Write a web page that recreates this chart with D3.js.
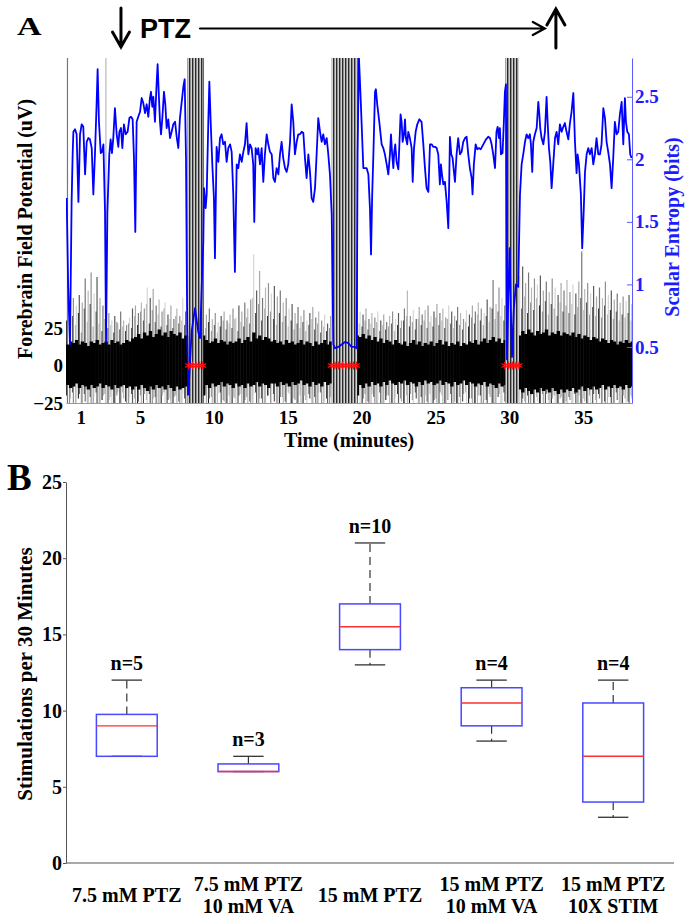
<!DOCTYPE html>
<html><head><meta charset="utf-8">
<script src="https://cdn.jsdelivr.net/npm/d3@7"></script>
<style>body{margin:0;background:#fff;} svg{display:block;}</style>
</head><body>
<svg id="chart" width="691" height="924"></svg>
<script>
// ---------------- Panel A data ----------------
const timeDomain = [0, 38.3];          // minutes
const eegDomain = [-25, 205];          // uV
const entropyDomain = [0.052, 2.81];   // bits
const timeTicks = [1, 5, 10, 15, 20, 25, 30, 35];
const eegTicks = [-25, 0, 25];
const entropyTicks = [0.5, 1, 1.5, 2, 2.5];
const entropyTickLabels = ["0.5", "1", "1.5", "2", "2.5"];

// EEG envelope, one value per 0.2-minute bin (uV)
const eegStart = 0, eegStep = 0.2;
const eegHigh = [
220,52,45,40,47,42,58,50,62,48,
59,45,40,220,35,30,33,28,36,30,
27,32,38,40,35,42,38,52,45,51,
40,44,36,42,34,40,31,38,33,45,
36,300,300,300,300,300,300,34,38,31,
35,29,33,36,30,34,38,32,40,36,
42,38,44,74,50,63,45,52,55,48,
53,46,50,42,45,38,41,35,39,33,
37,30,35,39,32,36,30,34,28,33,
300,300,300,300,300,300,300,300,300,36,
34,38,31,35,32,36,30,34,29,33,
36,31,35,30,38,50,33,37,31,39,
34,37,40,33,36,41,35,38,32,40,
36,33,39,35,31,37,34,40,36,42,
38,35,44,39,57,41,52,45,40,300,
300,300,300,60,66,55,62,52,58,54,
60,50,56,49,58,52,47,55,50,57,
49,54,48,56,76,51,55,48,53,46,
52,45,56,47,50,44,48,42,46,43,
47,41];
const eegLow = [
-30,-22,-30,-30,-19,-30,-24,-30,-30,-21,
-30,-30,-20,-30,-23,-30,-30,-18,-30,-22,
-30,-21,-30,-30,-24,-30,-19,-30,-30,-22,
-30,-30,-20,-30,-23,-30,-21,-30,-30,-19,
-30,-300,-300,-300,-300,-300,-300,-30,-22,-30,
-30,-19,-30,-24,-30,-30,-21,-30,-20,-30,
-23,-30,-30,-19,-30,-22,-30,-30,-20,-30,
-24,-30,-21,-30,-30,-19,-30,-23,-30,-30,
-20,-30,-22,-30,-30,-18,-30,-24,-30,-21,
-300,-300,-300,-300,-300,-300,-300,-300,-300,-30,
-22,-30,-30,-19,-30,-23,-30,-30,-20,-30,
-30,-21,-30,-24,-30,-30,-19,-30,-22,-30,
-30,-20,-30,-30,-23,-30,-18,-30,-30,-21,
-30,-24,-30,-30,-19,-30,-22,-30,-30,-20,
-30,-23,-30,-21,-30,-30,-19,-30,-24,-300,
-300,-300,-300,-30,-22,-30,-30,-20,-30,-24,
-30,-30,-19,-30,-22,-30,-30,-21,-30,-30,
-23,-30,-30,-20,-30,-24,-30,-30,-19,-30,
-22,-30,-30,-21,-30,-30,-23,-30,-20,-30,
-30,-22];
// secondary excursions within each bin (uV)
const eegHigh2 = [
30,24,33,27,35,22,38,29,41,26,
36,28,23,31,25,27,22,29,24,26,
23,28,25,33,27,36,30,41,28,37,
29,34,26,38,27,31,25,33,28,30,
27,300,300,300,300,300,300,25,29,23,
27,22,26,30,24,28,25,31,23,29,
26,32,28,45,35,41,30,38,33,36,
31,27,35,29,33,26,30,24,28,25,
29,23,27,31,24,28,22,26,23,25,
300,300,300,300,300,300,300,300,300,28,
26,30,24,28,25,29,23,27,24,26,
28,23,27,25,30,33,26,29,24,31,
27,30,25,29,26,32,27,30,25,31,
28,25,30,27,24,29,26,32,28,34,
30,27,33,29,38,31,36,33,30,300,
300,300,300,44,38,46,35,42,37,45,
40,36,43,34,41,38,33,42,36,40,
35,41,34,39,45,37,42,34,39,33,
38,32,40,34,37,31,36,30,34,32,
35,30];
const eegLow2 = [
-20,-26,-18,-30,-22,-27,-19,-30,-21,-25,
-18,-28,-23,-19,-30,-21,-26,-20,-27,-18,
-24,-30,-19,-22,-28,-20,-30,-23,-19,-26,
-21,-27,-30,-18,-25,-22,-29,-20,-24,-30,
-22,-300,-300,-300,-300,-300,-300,-19,-28,-21,
-26,-30,-18,-23,-27,-20,-30,-22,-25,-19,
-28,-21,-24,-30,-18,-26,-22,-29,-20,-25,
-19,-27,-30,-21,-24,-18,-28,-22,-26,-20,
-30,-23,-19,-27,-21,-25,-18,-29,-22,-26,
-300,-300,-300,-300,-300,-300,-300,-300,-300,-20,
-27,-19,-24,-30,-21,-26,-18,-28,-23,-20,
-25,-30,-19,-22,-27,-20,-29,-23,-18,-26,
-21,-28,-24,-19,-30,-22,-26,-20,-27,-23,
-19,-25,-29,-21,-24,-18,-28,-22,-26,-30,
-20,-27,-23,-19,-25,-30,-21,-26,-18,-300,
-300,-300,-300,-22,-29,-24,-20,-27,-30,-21,
-25,-19,-28,-23,-30,-20,-26,-22,-29,-24,
-21,-27,-19,-25,-30,-22,-26,-20,-28,-23,
-19,-26,-24,-30,-21,-27,-18,-25,-29,-22,
-24,-20];
const coreHigh = [
14,16,15,17,14,16,15,13,16,15,17,14,15,16,14,17,15,16,14,15,17,16,18,
19,21,18,22,20,23,19,21,24,20,22,19,23,21,20,22,18,20,
20,20,20,20,20,20,
17,15,16,18,15,17,16,14,16,15,
16,18,15,17,19,16,22,18,20,17,19,18,16,
17,15,16,14,17,15,16,14,15,17,14,16,15,13,16,14,15,17,14,16,
20,20,20,20,20,20,20,20,20,
19,21,18,20,17,19,16,18,15,17,16,14,17,15,
14,16,13,15,17,14,16,13,15,14,16,13,15,17,14,16,13,15,14,16,13,15,14,16,15,17,14,
16,18,15,17,19,16,18,15,17,
20,20,20,20,
20,23,21,24,22,20,23,21,22,24,20,22,21,23,20,22,21,
20,22,19,21,18,20,19,17,19,18,16,18,17,15,17,16,14,16,15,17,15,16];
const coreLow = [
-13,-15,-14,-12,-15,-13,-14,-16,-13,-15,-14,-12,-15,-13,-14,-16,-13,-15,-14,-13,-15,-14,-16,
-14,-16,-13,-15,-17,-14,-16,-13,-15,-14,-16,-13,-15,-17,-14,-16,-15,-14,
-20,-20,-20,-20,-20,-20,
-13,-15,-12,-14,-13,-11,-14,-12,-13,-15,
-12,-14,-13,-15,-12,-14,-13,-11,-14,-12,-13,-15,-12,
-12,-14,-11,-13,-12,-14,-11,-13,-12,-10,-13,-12,-14,-11,-13,-12,-14,-11,-13,-12,
-20,-20,-20,-20,-20,-20,-20,-20,-20,
-13,-15,-12,-14,-11,-13,-12,-14,-11,-13,-10,-12,-13,-11,
-12,-10,-13,-11,-12,-14,-11,-13,-10,-12,-11,-13,-12,-10,-13,-11,-12,-14,-11,-13,-12,-10,-13,-11,-12,-14,-12,
-13,-11,-14,-12,-13,-15,-12,-14,-13,
-20,-20,-20,-20,
-16,-18,-15,-17,-19,-16,-18,-15,-17,-16,-18,-15,-17,-19,-16,-18,-16,
-17,-15,-18,-16,-14,-17,-15,-16,-14,-16,-15,-13,-16,-14,-15,-13,-15,-14,-16,-13,-15,-14];

// seizure episodes (minutes) and detection markers
const seizureStart = [8.27, 17.97, 29.72];
const seizureEnd = [9.28, 19.73, 30.65];
const detectionTimes = [8.3, 8.55, 8.8, 9.05, 9.25,
  17.95, 18.2, 18.45, 18.7, 18.95, 19.2, 19.45, 19.65,
  29.7, 29.95, 30.2, 30.45, 30.65];

// scalar entropy trace
const entropyTime = [
0.045,0.15,0.27,0.38,0.45,0.50,0.61,0.72,0.84,0.95,1.06,1.17,1.29,1.40,1.51,1.62,1.74,1.85,1.96,2.07,
2.14,2.23,2.35,2.44,2.53,2.64,2.71,2.80,2.93,3.02,3.11,3.20,3.31,3.43,3.54,3.61,3.72,3.81,3.92,4.04,
4.17,4.29,4.40,4.51,4.60,4.69,4.78,4.89,5.01,5.12,5.23,5.35,5.46,5.57,5.68,5.75,5.84,5.91,6.02,6.13,
6.20,6.29,6.36,6.43,6.52,6.63,6.72,6.81,6.92,7.04,7.15,7.26,7.38,7.49,7.60,7.71,7.83,7.94,8.03,8.12,
8.21,8.28,8.50,8.73,8.95,9.07,9.18,9.29,9.34,9.45,9.52,9.63,9.70,9.79,9.90,10.01,10.08,10.19,10.31,10.42,
10.53,10.64,10.76,10.87,10.98,11.10,11.21,11.32,11.43,11.55,11.66,11.77,11.89,12.00,12.11,12.22,12.34,12.45,12.56,12.67,
12.74,12.83,12.95,13.01,13.13,13.24,13.35,13.46,13.58,13.69,13.80,13.92,14.03,14.14,14.25,14.37,14.48,14.59,14.70,14.82,
14.93,15.04,15.16,15.27,15.38,15.49,15.61,15.72,15.83,15.95,16.06,16.17,16.28,16.40,16.51,16.62,16.73,16.85,16.96,17.07,
17.19,17.30,17.41,17.52,17.64,17.75,17.86,17.98,18.09,18.20,18.43,18.65,18.88,19.10,19.33,19.55,19.67,19.73,19.82,19.91,
20.00,20.12,20.34,20.46,20.57,20.64,20.72,20.80,20.91,20.97,21.06,21.20,21.36,21.47,21.58,21.70,21.81,21.92,21.99,22.06,
22.15,22.21,22.28,22.37,22.49,22.55,22.64,22.71,22.78,22.87,22.94,23.00,23.09,23.16,23.27,23.39,23.46,23.55,23.66,23.77,
23.91,24.06,24.18,24.29,24.40,24.52,24.63,24.74,24.85,24.97,25.08,25.19,25.30,25.37,25.44,25.53,25.64,25.76,25.87,25.94,
25.98,26.07,26.16,26.25,26.32,26.43,26.54,26.66,26.77,26.88,27.00,27.11,27.22,27.33,27.45,27.51,27.60,27.72,27.83,27.94,
28.06,28.24,28.42,28.57,28.69,28.80,28.91,29.03,29.13,29.21,29.30,29.36,29.43,29.54,29.63,29.70,29.77,29.84,29.93,30.02,
30.10,30.18,30.30,30.45,30.60,30.72,30.83,30.94,31.06,31.17,31.28,31.39,31.46,31.55,31.62,31.73,31.85,31.96,32.03,32.09,
32.18,32.30,32.41,32.52,32.59,32.68,32.77,32.86,32.97,33.09,33.20,33.31,33.42,33.54,33.65,33.76,33.87,33.99,34.10,34.21,
34.33,34.44,34.55,34.62,34.71,34.84,34.93,35.03,35.12,35.23,35.34,35.45,35.57,35.68,35.79,35.90,36.02,36.13,36.24,36.36,
36.47,36.58,36.69,36.81,36.92,37.03,37.14,37.26,37.37,37.48,37.60,37.71,37.82,37.89,37.98,38.09,38.18,38.27];
const entropyBits = [
1.69,0.97,0.52,1.66,2.04,2.22,2.24,2.20,1.66,2.20,2.28,2.26,1.88,2.14,2.17,2.16,2.09,1.72,2.04,2.44,
2.72,2.30,2.05,2.06,2.12,1.58,0.54,1.58,2.04,2.16,2.05,2.17,2.41,2.20,2.10,2.22,2.25,2.09,2.28,2.20,
2.22,2.33,2.34,2.32,2.01,1.42,2.30,2.34,2.38,2.49,2.45,2.37,2.44,2.34,2.49,2.54,2.42,2.50,2.30,2.60,
2.76,2.49,2.30,2.20,2.33,2.54,2.44,2.25,2.32,2.17,2.22,2.28,2.30,2.18,2.09,2.33,2.46,2.58,2.64,2.01,
0.54,0.12,0.62,0.81,0.62,0.57,0.97,1.34,1.77,1.61,1.72,2.30,2.62,2.30,1.96,1.69,1.21,2.10,1.98,2.17,
2.20,2.12,2.14,1.98,2.09,2.12,2.06,1.72,1.10,1.96,1.93,2.04,1.98,2.06,2.12,2.29,2.04,2.12,2.09,1.96,
1.50,2.09,2.04,2.09,1.96,2.09,1.82,2.04,2.20,2.12,2.06,2.04,1.85,1.82,1.93,1.88,2.04,2.14,2.01,1.93,
1.90,1.96,2.14,2.44,2.30,2.04,2.14,2.20,2.20,2.22,2.21,2.01,1.85,2.04,1.90,1.69,1.66,1.77,2.04,2.33,
2.22,2.14,2.20,2.12,2.17,2.04,1.88,1.56,0.52,0.49,0.50,0.52,0.54,0.53,0.50,0.50,0.49,2.04,2.82,2.57,
2.30,1.93,1.93,1.88,1.60,1.24,1.72,2.04,2.54,2.56,2.44,2.30,2.12,2.09,2.04,1.96,1.88,2.04,2.20,2.06,
1.93,2.06,2.12,1.98,1.92,2.09,2.36,2.30,2.14,2.20,2.32,2.17,2.12,2.22,2.17,2.09,1.82,2.09,2.22,2.28,
2.32,2.30,2.12,1.93,1.77,1.74,2.12,2.12,2.10,2.10,2.09,2.04,1.80,1.96,1.88,1.80,1.82,1.66,1.45,1.88,
2.18,2.04,2.01,1.90,1.82,2.04,2.17,2.04,2.06,2.14,2.17,2.18,2.04,1.93,1.85,1.72,1.96,2.12,2.08,2.09,
2.08,2.12,2.16,2.18,2.17,2.12,2.04,1.93,2.22,2.26,2.17,2.25,2.04,2.05,2.30,2.54,2.60,0.40,0.90,1.29,
0.80,0.42,0.80,1.00,0.98,1.72,1.96,2.04,2.14,2.20,2.17,2.20,2.12,1.90,2.14,2.20,2.25,2.46,2.36,2.25,
2.17,2.12,2.22,2.50,2.30,2.09,1.98,1.77,1.96,2.17,2.22,2.12,2.28,2.22,2.26,2.29,2.22,2.16,2.29,2.38,
2.53,2.14,1.89,2.04,1.96,1.72,1.29,1.58,1.90,2.04,2.09,2.04,2.09,1.96,2.04,2.17,2.04,2.04,2.12,2.41,
2.33,2.14,2.06,1.96,1.77,2.01,2.30,2.20,2.22,2.36,2.46,2.12,2.49,2.30,2.22,2.20,2.04,2.01];

// PTZ annotation (minutes)
const ptzOn = 3.72, ptzOff = 33.15, ptzArrowFrom = 9.07, ptzArrowTo = 32.4;

// ---------------- Panel B data ----------------
const categories = ["7.5 mM PTZ", "7.5 mM PTZ\n10 mM VA", "15 mM PTZ", "15 mM PTZ\n10 mM VA", "15 mM PTZ\n10X STIM"];
const whiskerHigh = [12, 7, 21, 12, 12];
const q3 = [9.75, 6.5, 17, 11.5, 10.5];
const median = [9, 6, 15.5, 10.5, 7];
const q1 = [7, 6, 14, 9, 4];
const whiskerLow = [7, 6, 13, 8, 3];
const nCounts = [5, 3, 10, 4, 4];
const stimDomain = [0, 25];
const stimTicks = [0, 5, 10, 15, 20, 25];

// ---------------- drawing ----------------
const svg = d3.select("#chart");
const serif = "'Liberation Serif','Times New Roman',Times,serif";
const sans = "'Liberation Sans',Arial,Helvetica,sans-serif";
const A = {left: 66, right: 632, top: 58, bottom: 403};

const x = d3.scaleLinear().domain(timeDomain).range([A.left, A.right]);
const yE = d3.scaleLinear().domain(eegDomain).range([A.bottom, A.top]);
const yS = d3.scaleLinear().domain(entropyDomain).range([A.bottom, A.top]);

const defs = svg.append("defs");
defs.append("clipPath").attr("id", "clipA").append("rect")
  .attr("x", A.left).attr("y", A.top).attr("width", A.right - A.left).attr("height", A.bottom - A.top);
const pat = defs.append("pattern").attr("id", "stripes").attr("patternUnits", "userSpaceOnUse")
  .attr("width", 3).attr("height", 10);
pat.append("rect").attr("width", 3).attr("height", 10).attr("fill", "#d0d0d0");
pat.append("rect").attr("width", 1).attr("height", 10).attr("fill", "#2a2a2a");
pat.append("rect").attr("x", 1).attr("width", 1).attr("height", 10).attr("fill", "#8e8e8e");

const gA = svg.append("g").attr("clip-path", "url(#clipA)");
const shades = ["#777", "#b8b8b8", "#909090", "#d4d4d4", "#5a5a5a", "#a8a8a8"];
const shades2 = ["#222", "#8a8a8a", "#4a4a4a", "#b0b0b0"];
const binMid = i => eegStart + (i + 0.5) * eegStep;
const binStart = i => eegStart + i * eegStep;

gA.append("g").selectAll("line").data(eegHigh2).join("line")
  .attr("x1", (d, i) => x(binStart(i)) + 0.6).attr("x2", (d, i) => x(binStart(i)) + 0.6)
  .attr("y1", (d, i) => yE(eegLow2[i])).attr("y2", d => yE(d))
  .attr("stroke", (d, i) => shades2[i % shades2.length]).attr("stroke-width", 1.1);
gA.append("g").selectAll("line").data(eegHigh).join("line")
  .attr("x1", (d, i) => x(binMid(i))).attr("x2", (d, i) => x(binMid(i)))
  .attr("y1", (d, i) => yE(eegLow[i])).attr("y2", d => yE(d))
  .attr("stroke", (d, i) => shades[i % shades.length]).attr("stroke-width", 1.2);

const binW = x(eegStep) - x(0);
gA.append("g").selectAll("rect").data(coreHigh).join("rect")
  .attr("x", (d, i) => x(binStart(i))).attr("width", binW + 0.4)
  .attr("y", d => yE(d)).attr("height", (d, i) => yE(coreLow[i]) - yE(d))
  .attr("fill", "#000");

gA.append("g").selectAll("rect").data(seizureStart).join("rect")
  .attr("x", d => x(d)).attr("width", (d, i) => x(seizureEnd[i]) - x(d))
  .attr("y", A.top).attr("height", A.bottom - A.top).attr("fill", "url(#stripes)");

const entropyLine = d3.line().x((d, i) => x(entropyTime[i])).y(d => yS(d));
gA.append("path").datum(entropyBits).attr("d", entropyLine)
  .attr("fill", "none").attr("stroke", "#0000ff").attr("stroke-width", 1.8).attr("stroke-linejoin", "round");

const star = d3.symbol().type(d3.symbolAsterisk).size(44);
gA.append("g").selectAll("path").data(detectionTimes).join("path")
  .attr("transform", d => `translate(${x(d)},${yE(0)})`).attr("d", star)
  .attr("fill", "none").attr("stroke", "#ff1010").attr("stroke-width", 1.2);

// axes A
const axB = svg.append("g").attr("transform", `translate(0,${A.bottom})`)
  .call(d3.axisBottom(x).tickValues(timeTicks).tickSize(0).tickPadding(7.5));
axB.attr("font-family", serif).attr("font-size", 19).attr("font-weight", "bold");
axB.select(".domain").attr("stroke", "#999");
axB.selectAll("text").attr("fill", "#000");

const axL = svg.append("g").attr("transform", `translate(${A.left},0)`)
  .call(d3.axisLeft(yE).tickValues(eegTicks).tickSize(0).tickPadding(3));
axL.attr("font-family", serif).attr("font-size", 19).attr("font-weight", "bold");
axL.select(".domain").remove();
axL.selectAll("text").attr("fill", "#000");

const axR = svg.append("g").attr("transform", `translate(${A.right},0)`)
  .call(d3.axisRight(yS).tickValues(entropyTicks).tickFormat((d, i) => entropyTickLabels[i])
    .tickSizeInner(-5).tickSizeOuter(0).tickPadding(3));
axR.attr("font-family", serif).attr("font-size", 19).attr("font-weight", "bold").attr("color", "#5a5aff");
axR.selectAll("text").attr("fill", "#1c1cff");

svg.append("text").attr("x", (A.left + A.right) / 2).attr("y", 447).attr("text-anchor", "middle")
  .attr("font-family", serif).attr("font-size", 20).attr("font-weight", "bold").text("Time (minutes)");
svg.append("text").attr("transform", "translate(31.5,229) rotate(-90)").attr("text-anchor", "middle")
  .attr("font-family", serif).attr("font-size", 20).attr("font-weight", "bold").text("Forebrain Field Potential (uV)");
svg.append("text").attr("transform", "translate(679,227) rotate(-90)").attr("text-anchor", "middle")
  .attr("font-family", serif).attr("font-size", 20).attr("font-weight", "bold").attr("fill", "#1c1cff")
  .text("Scalar Entropy (bits)");

svg.append("text").attr("transform", "translate(17,35) scale(1,0.75)")
  .attr("font-family", serif).attr("font-size", 34).attr("font-weight", "bold").text("A");

// PTZ annotation
const ann = svg.append("g").attr("fill", "none").attr("stroke", "#000").attr("stroke-linecap", "round");
const xOn = x(ptzOn), xOff = x(ptzOff);
ann.append("path").attr("d", `M${xOn},8V47M${xOn - 8.5},32L${xOn},47L${xOn + 8.5},32`).attr("stroke-width", 3);
ann.append("path").attr("d", `M${xOff},48V9M${xOff - 9},25L${xOff},9L${xOff + 9},25`).attr("stroke-width", 3);
ann.append("path").attr("d", `M${x(ptzArrowFrom)},28.5H${x(ptzArrowTo)}M${x(ptzArrowTo) - 12},22L${x(ptzArrowTo)},28.5L${x(ptzArrowTo) - 12},35`).attr("stroke-width", 2.2);
svg.append("text").attr("x", 140).attr("y", 37.5).attr("font-family", sans).attr("font-size", 27)
  .attr("font-weight", "bold").text("PTZ");

// ---------------- Panel B ----------------
const B = {left: 66, right: 674, top: 482, bottom: 863};
const xb = d3.scaleBand().domain(categories).range([B.left, B.right]);
const yb = d3.scaleLinear().domain(stimDomain).range([B.bottom, B.top]);
const bw = xb.bandwidth() / 2, cw = xb.bandwidth() / 4;
const cx = c => xb(c) + xb.bandwidth() / 2;

const gB = svg.append("g");
const grp = gB.selectAll("g.box").data(categories).join("g").attr("class", "box");
grp.append("line").attr("x1", d => cx(d)).attr("x2", d => cx(d))
  .attr("y1", (d, i) => yb(q3[i])).attr("y2", (d, i) => yb(whiskerHigh[i]))
  .attr("stroke", "#333").attr("stroke-width", 1.2).attr("stroke-dasharray", "8,5");
grp.append("line").attr("x1", d => cx(d)).attr("x2", d => cx(d))
  .attr("y1", (d, i) => yb(q1[i])).attr("y2", (d, i) => yb(whiskerLow[i]))
  .attr("stroke", "#333").attr("stroke-width", 1.2).attr("stroke-dasharray", "8,5");
grp.append("line").attr("x1", d => cx(d) - cw / 2).attr("x2", d => cx(d) + cw / 2)
  .attr("y1", (d, i) => yb(whiskerHigh[i])).attr("y2", (d, i) => yb(whiskerHigh[i]))
  .attr("stroke", "#333").attr("stroke-width", 1.3);
grp.append("line").attr("x1", d => cx(d) - cw / 2).attr("x2", d => cx(d) + cw / 2)
  .attr("y1", (d, i) => yb(whiskerLow[i])).attr("y2", (d, i) => yb(whiskerLow[i]))
  .attr("stroke", "#333").attr("stroke-width", 1.3);
grp.append("rect").attr("x", d => cx(d) - bw / 2).attr("width", bw)
  .attr("y", (d, i) => yb(q3[i])).attr("height", (d, i) => yb(q1[i]) - yb(q3[i]))
  .attr("fill", "none").attr("stroke", "#4848ff").attr("stroke-width", 1.5);
grp.append("line").attr("x1", d => cx(d) - bw / 2).attr("x2", d => cx(d) + bw / 2)
  .attr("y1", (d, i) => yb(median[i])).attr("y2", (d, i) => yb(median[i]))
  .attr("stroke", "#ff3030").attr("stroke-width", 1.4);
grp.append("text").attr("x", d => cx(d)).attr("y", (d, i) => yb(whiskerHigh[i]) - 10)
  .attr("text-anchor", "middle").attr("font-family", serif).attr("font-size", 20).attr("font-weight", "bold")
  .text((d, i) => "n=" + nCounts[i]);

const ayB = svg.append("g").attr("transform", `translate(${B.left},0)`)
  .call(d3.axisLeft(yb).tickValues(stimTicks).tickSize(3).tickPadding(1).tickSizeOuter(0));
ayB.attr("font-family", serif).attr("font-size", 20).attr("font-weight", "bold").attr("color", "#555");
ayB.selectAll("text").attr("fill", "#000");
svg.append("line").attr("x1", B.left).attr("x2", B.right).attr("y1", B.bottom).attr("y2", B.bottom)
  .attr("stroke", "#555").attr("stroke-width", 1.2);

const catText = svg.append("g").selectAll("text").data(categories).join("text")
  .attr("text-anchor", "middle").attr("font-family", serif).attr("font-size", 20).attr("font-weight", "bold")
  .attr("x", d => cx(d));
catText.each(function (d) {
  const lines = d.split("\n");
  const t = d3.select(this);
  if (lines.length === 1) {
    t.append("tspan").attr("x", cx(d)).attr("y", 902).text(lines[0]);
  } else {
    lines.forEach((l, k) => t.append("tspan").attr("x", cx(d)).attr("y", 891 + k * 22).text(l));
  }
});

svg.append("text").attr("transform", "translate(32,674) rotate(-90)").attr("text-anchor", "middle")
  .attr("font-family", serif).attr("font-size", 21).attr("font-weight", "bold").text("Stimulations per 30 Minutes");
svg.append("text").attr("x", 7).attr("y", 490).attr("font-family", serif).attr("font-size", 37)
  .attr("font-weight", "bold").text("B");
</script>
</body></html>
